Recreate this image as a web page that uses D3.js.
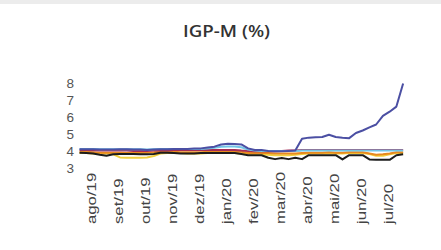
<!DOCTYPE html>
<html><head><meta charset="utf-8">
<script src="https://cdn.jsdelivr.net/npm/d3@7"></script>
<style>html,body{margin:0;padding:0;background:#fff;}svg{display:block;}</style>
</head><body>
<svg id="chart" width="441" height="250"></svg>
<script>
const title = "IGP-M (%)";
const monthLabels = ["ago/19","set/19","out/19","nov/19","dez/19","jan/20","fev/20","mar/20","abr/20","mai/20","jun/20","jul/20"];
const yTicks = [3,4,5,6,7,8];
// weekly observation positions, in months from ago/19
const weeks = d3.range(49).map(i => -0.45 + 0.25 * i);
const maxSeries = [4.1,4.1,4.1,4.08,4.08,4.08,4.1,4.1,4.08,4.08,4.05,4.08,4.1,4.1,4.12,4.12,4.12,4.15,4.15,4.2,4.25,4.38,4.42,4.4,4.38,4.15,4.05,4.05,4.0,3.98,3.98,4.0,4.02,4.72,4.78,4.8,4.82,4.95,4.82,4.78,4.75,5.05,5.2,5.38,5.55,6.05,6.3,6.6,7.95];
const cyanSeries = [4.12,4.12,4.12,4.1,4.1,4.1,4.1,4.1,4.1,4.1,4.08,4.1,4.12,4.12,4.12,4.12,4.12,4.12,4.12,4.15,4.18,4.25,4.26,4.26,4.22,4.08,4.02,4.0,4.0,4.0,4.0,4.0,4.0,4.02,4.02,4.02,4.02,4.02,4.02,4.02,4.02,4.02,4.02,4.02,4.02,4.02,4.02,4.02,4.02];
const redSeries = [4.05,4.05,4.04,4.03,4.03,4.02,4.02,4.02,4.0,4.0,4.0,4.02,4.03,4.03,4.05,4.05,4.05,4.05,4.05,4.05,4.05,4.05,4.05,4.05,4.02,4.0,3.98,3.98,3.98,3.98,4.0,4.02,4.03,4.05,4.05,4.05,4.05,4.05,4.05,4.05,4.05,4.05,4.05,4.05,4.05,4.05,4.05,4.05,4.05];
const orangeSeries = [3.95,3.95,3.93,3.9,3.9,3.9,3.9,3.88,3.88,3.88,3.9,3.92,3.95,3.95,3.95,3.93,3.92,3.92,3.93,3.95,3.95,3.95,3.95,3.95,3.95,3.88,3.88,3.88,3.88,3.85,3.85,3.85,3.85,3.88,3.9,3.9,3.9,3.92,3.9,3.9,3.92,3.92,3.92,3.85,3.78,3.8,3.85,3.92,3.92];
const yellowSeries = [3.88,3.88,3.85,3.85,3.85,3.8,3.62,3.6,3.6,3.6,3.62,3.7,3.85,3.88,3.88,3.88,3.85,3.85,3.85,3.88,3.88,3.88,3.88,3.88,3.85,3.82,3.8,3.8,3.78,3.75,3.75,3.75,3.78,3.82,3.85,3.85,3.85,3.85,3.85,3.85,3.88,3.88,3.88,3.82,3.72,3.72,3.8,3.88,3.88];
const blackSeries = [3.9,3.88,3.85,3.78,3.72,3.8,3.82,3.82,3.82,3.8,3.8,3.82,3.9,3.9,3.88,3.85,3.85,3.85,3.88,3.88,3.88,3.88,3.88,3.88,3.82,3.75,3.75,3.75,3.6,3.52,3.58,3.52,3.6,3.52,3.75,3.75,3.75,3.75,3.75,3.5,3.75,3.75,3.75,3.5,3.48,3.48,3.48,3.75,3.8];

const seriesList = [
  {values: yellowSeries, color: "#f2cf3c"},
  {values: orangeSeries, color: "#e8891f"},
  {values: redSeries, color: "#a52c55"},
  {values: cyanSeries, color: "#72c4e6"},
  {values: blackSeries, color: "#1c1c1c"},
  {values: maxSeries, color: "#4b4fa3"}
];

const svg = d3.select("#chart");
svg.append("rect").attr("x",0).attr("y",0).attr("width",441).attr("height",4).attr("fill","#ececec");

const x = d3.scaleLinear().domain([0, 11]).range([91.7, 388.3]);
const y = d3.scaleLinear().domain([3, 8]).range([168, 82.7]);

svg.append("text").attr("x", 226.5).attr("y", 36.5).attr("text-anchor","middle")
  .attr("font-family","'Open Sans', sans-serif").attr("font-weight",600).attr("font-size",16)
  .attr("fill","#333").attr("textLength",87).attr("lengthAdjust","spacingAndGlyphs").text(title);

// y axis labels
const yAxis = d3.axisLeft(y).tickValues(yTicks).tickSize(0).tickPadding(0).tickFormat(d3.format("d"));
const gy = svg.append("g").attr("transform","translate(74,0)").call(yAxis);
gy.select(".domain").remove();
gy.selectAll("text").attr("font-family","'Liberation Sans', Arial, sans-serif").attr("font-size",13.5).attr("fill","#555");

// x axis labels (rotated, reading upward) via explicit rotation matrix
const gx = svg.append("g");
gx.selectAll("text").data(monthLabels).join("text")
  .attr("transform",(d,i)=>"matrix(0,-1.34,1,0," + (x(i) + 4.4) + ",224)")
  .attr("x",0).attr("y",0)
  .attr("text-anchor","start")
  .attr("font-family","'Liberation Sans', Arial, sans-serif").attr("font-size",12.5).attr("fill","#444")
  .text(d=>d);

const line = d3.line().x((d,i)=>x(weeks[i])).y(d=>y(d)).curve(d3.curveLinear);
svg.append("g").selectAll("path").data(seriesList).join("path")
  .attr("d", s=>line(s.values)).attr("fill","none").attr("stroke", s=>s.color)
  .attr("stroke-width",2).attr("stroke-linejoin","round");
</script>
</body></html>
